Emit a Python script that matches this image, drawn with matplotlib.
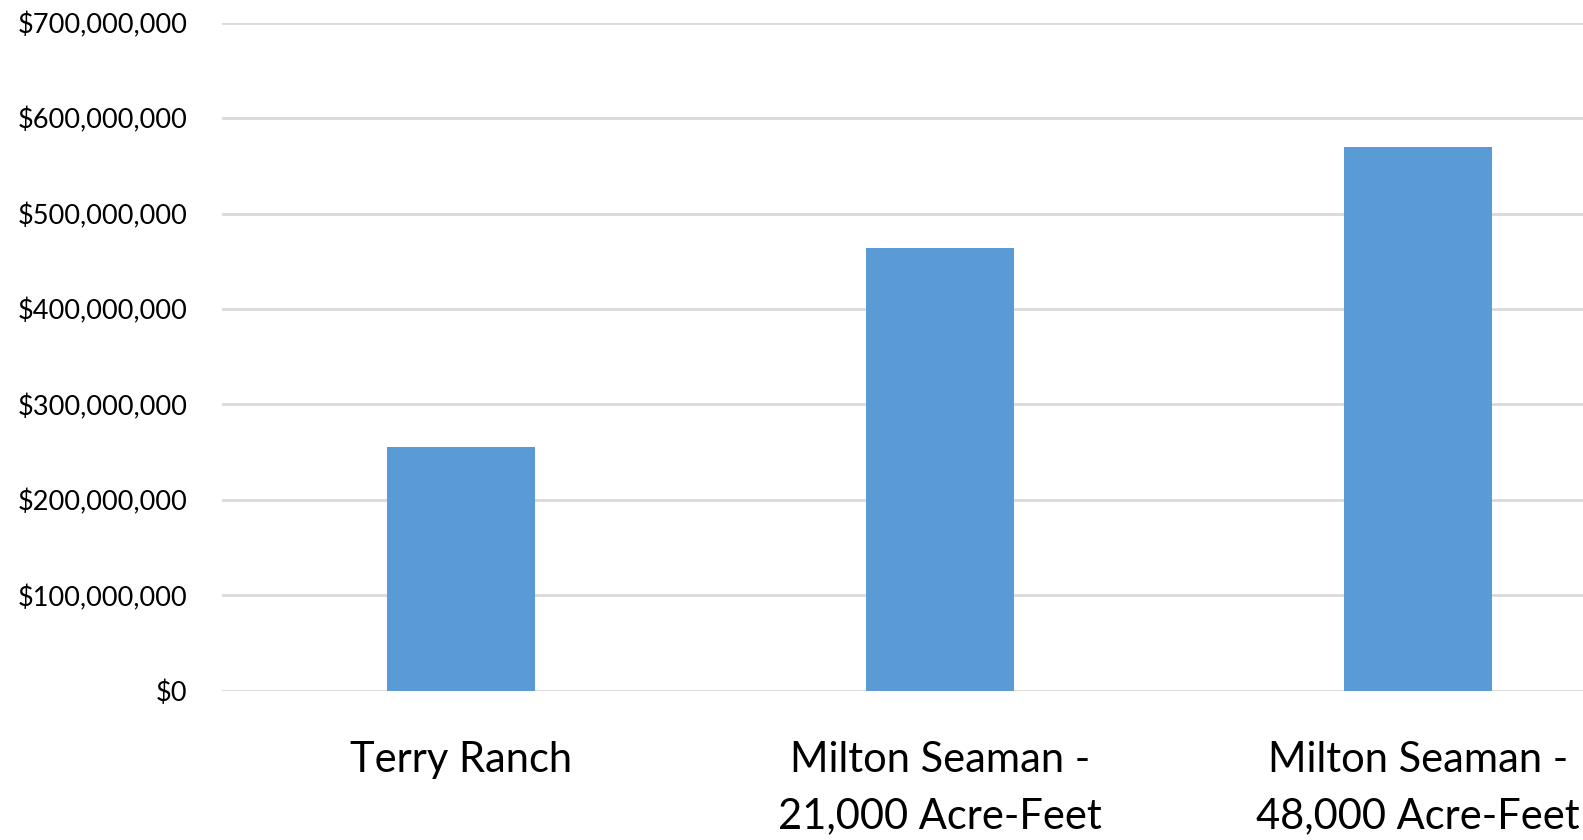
import numpy as np
import matplotlib.pyplot as plt
from matplotlib.ticker import FuncFormatter

# project cost comparison
projects = ["Terry Ranch", "Milton Seaman -\n21,000 Acre-Feet", "Milton Seaman -\n48,000 Acre-Feet"]
costs = [255000000, 464000000, 570000000]
y_ticks = [0, 100000000, 200000000, 300000000, 400000000, 500000000, 600000000, 700000000]

plt.rcParams['font.family'] = ['Lato', 'DejaVu Sans']

fig = plt.figure(figsize=(15.83, 8.4), dpi=100)
# axes runs past the right edge, the original image is cropped there
ax = fig.add_axes([0.1402, 0.1774, 0.9068, 0.7958])

x = np.arange(len(projects))
ax.bar(x, costs, width=0.31, color="#5b9bd5", zorder=3)

ax.set_xlim(-0.5, 2.5)
ax.set_ylim(0, 700000000)
ax.set_yticks(y_ticks)
ax.yaxis.set_major_formatter(FuncFormatter(lambda v, p: "${:,.0f}".format(v)))
ax.set_xticks(x)
ax.set_xticklabels(projects, fontsize=30, linespacing=1.6)

ax.grid(axis="y", color="#d9d9d9", linewidth=2, zorder=0)
ax.tick_params(axis="y", length=0, pad=25, labelsize=19.5, labelcolor="#000000")
ax.tick_params(axis="x", length=0, pad=36)
for s in ax.spines.values():
    s.set_visible(False)

fig.savefig("out.png", dpi=100)
